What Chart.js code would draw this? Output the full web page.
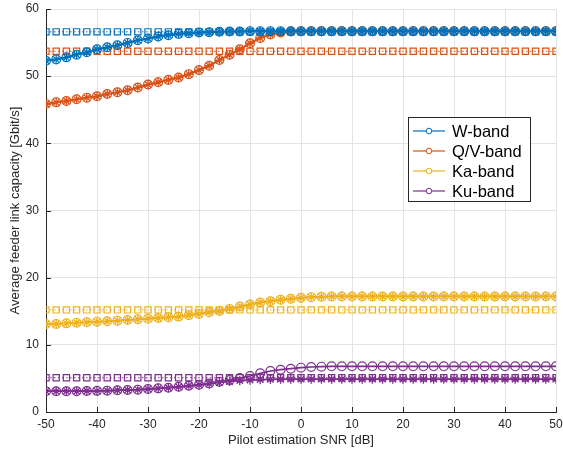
<!DOCTYPE html>
<html>
<head>
<meta charset="utf-8">
<script src="https://cdn.jsdelivr.net/npm/chart.js@4.4.1/dist/chart.umd.min.js"></script>
<style>
  html, body { margin: 0; padding: 0; background: #ffffff; }
  #wrap { width: 563px; height: 450px; }
</style>
</head>
<body>
<div id="wrap"><canvas id="c" width="563" height="450"></canvas></div>
<script>
// Pilot estimation SNR grid [dB]
const snr = [-50,-48,-46,-44,-42,-40,-38,-36,-34,-32,-30,-28,-26,-24,-22,-20,-18,-16,-14,-12,-10,
             -8,-6,-4,-2,0,2,4,6,8,10,12,14,16,18,20,22,24,26,28,30,32,34,36,38,40,42,44,46,48,50];

const xTicks = [-50,-40,-30,-20,-10,0,10,20,30,40,50];
const yTicks = [0,10,20,30,40,50,60];

// Average feeder link capacity [Gbit/s], estimated CSI (circles)
const wEst  = [52.3,52.5,52.8,53.2,53.55,54.0,54.3,54.6,54.95,55.35,55.6,55.9,56.1,56.3,56.4,56.5,56.55,56.6,56.65,56.65,56.7,
               56.7,56.7,56.7,56.7,56.7,56.7,56.7,56.7,56.7,56.7,56.7,56.7,56.7,56.7,56.7,56.7,56.7,56.7,56.7,56.7,
               56.7,56.7,56.7,56.7,56.7,56.7,56.7,56.7,56.7,56.7];
const qvEst = [45.85,46.1,46.3,46.55,46.8,47.0,47.35,47.6,47.9,48.3,48.75,49.1,49.45,49.8,50.3,50.9,51.55,52.4,53.2,54.0,54.9,
               55.7,56.2,56.5,56.65,56.7,56.7,56.7,56.7,56.7,56.7,56.7,56.7,56.7,56.7,56.7,56.7,56.7,56.7,56.7,56.7,
               56.7,56.7,56.7,56.7,56.7,56.7,56.7,56.7,56.7,56.7];
const kaEst = [13.1,13.1,13.2,13.3,13.35,13.45,13.5,13.6,13.7,13.8,13.9,14.0,14.1,14.2,14.4,14.6,14.85,15.05,15.35,15.7,16.0,
               16.3,16.5,16.7,16.85,17.0,17.1,17.15,17.2,17.2,17.2,17.2,17.2,17.2,17.2,17.2,17.2,17.2,17.2,17.2,17.2,
               17.2,17.2,17.2,17.2,17.2,17.2,17.2,17.2,17.2,17.2];
const kuEst = [3.1,3.1,3.1,3.1,3.13,3.15,3.18,3.23,3.28,3.33,3.42,3.52,3.62,3.75,3.9,4.05,4.25,4.5,4.75,5.05,5.36,
               5.76,6.1,6.3,6.45,6.6,6.7,6.75,6.8,6.8,6.8,6.8,6.8,6.8,6.8,6.8,6.8,6.8,6.8,6.8,6.8,
               6.8,6.8,6.8,6.8,6.8,6.8,6.8,6.8,6.8,6.8];

// Reference capacity levels (squares)
const wRef  = [56.6,56.6,56.6,56.6,56.6,56.6,56.6,56.6,56.6,56.6,56.6,56.6,56.6,56.6,56.6,56.6,56.6,56.6,56.6,56.6,56.6,
               56.6,56.6,56.6,56.6,56.6,56.6,56.6,56.6,56.6,56.6,56.6,56.6,56.6,56.6,56.6,56.6,56.6,56.6,56.6,56.6,
               56.6,56.6,56.6,56.6,56.6,56.6,56.6,56.6,56.6,56.6];
const qvRef = [53.7,53.7,53.7,53.7,53.7,53.7,53.7,53.7,53.7,53.7,53.7,53.7,53.7,53.7,53.7,53.7,53.7,53.7,53.7,53.7,53.7,
               53.7,53.7,53.7,53.7,53.7,53.7,53.7,53.7,53.7,53.7,53.7,53.7,53.7,53.7,53.7,53.7,53.7,53.7,53.7,53.7,
               53.7,53.7,53.7,53.7,53.7,53.7,53.7,53.7,53.7,53.7];
const kaRef = [15.2,15.2,15.2,15.2,15.2,15.2,15.2,15.2,15.2,15.2,15.2,15.2,15.2,15.2,15.2,15.2,15.2,15.2,15.2,15.2,15.2,
               15.2,15.2,15.2,15.2,15.2,15.2,15.2,15.2,15.2,15.2,15.2,15.2,15.2,15.2,15.2,15.2,15.2,15.2,15.2,15.2,
               15.2,15.2,15.2,15.2,15.2,15.2,15.2,15.2,15.2,15.2];
const kuRef = [5.1,5.1,5.1,5.1,5.1,5.1,5.1,5.1,5.1,5.1,5.1,5.1,5.1,5.1,5.1,5.1,5.1,5.1,5.1,5.1,5.1,
               5.1,5.1,5.1,5.1,5.1,5.1,5.1,5.1,5.1,5.1,5.1,5.1,5.1,5.1,5.1,5.1,5.1,5.1,5.1,5.1,
               5.1,5.1,5.1,5.1,5.1,5.1,5.1,5.1,5.1,5.1];

// Asterisk series (fixed-rate scheme)
const wFix  = wEst;
const qvFix = qvEst;
const kaFix = kaEst;
const kuFix = [3.1,3.1,3.1,3.1,3.13,3.15,3.18,3.23,3.28,3.33,3.42,3.52,3.62,3.75,3.9,4.05,4.2,4.4,4.55,4.68,4.76,
               4.82,4.86,4.88,4.9,4.9,4.9,4.9,4.9,4.9,4.9,4.9,4.9,4.9,4.9,4.9,4.9,4.9,4.9,4.9,4.9,
               4.9,4.9,4.9,4.9,4.9,4.9,4.9,4.9,4.9,4.9];

const bands = ['W-band', 'Q/V-band', 'Ka-band', 'Ku-band'];
const colors = ['#0072BD', '#D95319', '#EDB120', '#7E2F8E'];
const estSeries = [wEst, qvEst, kaEst, kuEst];
const refSeries = [wRef, qvRef, kaRef, kuRef];
const fixSeries = [wFix, qvFix, kaFix, kuFix];

const pts = arr => snr.map((x, i) => ({ x: x, y: arr[i] }));

const datasets = [];
bands.forEach((name, b) => {
  datasets.push({
    label: name, legend: true, data: pts(estSeries[b]),
    borderColor: colors[b], backgroundColor: 'rgba(0,0,0,0)',
    borderWidth: 1.7, pointStyle: 'circle', pointRadius: 4.4,
    pointBorderWidth: 1.2, pointBorderColor: colors[b], pointBackgroundColor: 'rgba(0,0,0,0)'
  });
  datasets.push({
    label: name + ' ref', data: pts(refSeries[b]),
    borderColor: colors[b], backgroundColor: 'rgba(0,0,0,0)',
    borderWidth: 1, borderDash: [1.5, 2.5], pointStyle: 'rect', pointRadius: 4.4,
    pointBorderWidth: 1.2, pointBorderColor: colors[b], pointBackgroundColor: 'rgba(0,0,0,0)'
  });
  datasets.push({
    label: name + ' fixed', data: pts(fixSeries[b]),
    borderColor: colors[b], backgroundColor: 'rgba(0,0,0,0)',
    borderWidth: 1.7, pointStyle: 'star', pointRadius: 4.6,
    pointBorderWidth: 1.3, pointBorderColor: colors[b], pointBackgroundColor: 'rgba(0,0,0,0)'
  });
});

const axisColor = '#262626';
const gridColor = '#e3e3e3';
const fontFamily = '"Liberation Sans", Arial, Helvetica, sans-serif';

// Inward tick marks on the left and bottom axes
const innerTicks = {
  id: 'innerTicks',
  afterDatasetsDraw(chart) {
    const ctx = chart.ctx;
    const xs = chart.scales.x, ys = chart.scales.y;
    const area = chart.chartArea;
    ctx.save();
    ctx.strokeStyle = axisColor;
    ctx.lineWidth = 1;
    ctx.beginPath();
    xTicks.forEach(v => {
      const px = Math.round(xs.getPixelForValue(v)) + 0.5;
      ctx.moveTo(px, area.bottom);
      ctx.lineTo(px, area.bottom - 5);
    });
    yTicks.forEach(v => {
      const py = Math.round(ys.getPixelForValue(v)) + 0.5;
      ctx.moveTo(area.left, py);
      ctx.lineTo(area.left + 5, py);
    });
    ctx.stroke();
    ctx.restore();
  }
};

// Boxed legend inside the plot area
const boxLegend = {
  id: 'boxLegend',
  afterDraw(chart) {
    const ctx = chart.ctx;
    const items = chart.data.datasets.filter(d => d.legend);
    const left = 408.5, top = 117.5, w = 122, h = 84;
    ctx.save();
    ctx.fillStyle = '#ffffff';
    ctx.fillRect(left, top, w, h);
    ctx.strokeStyle = '#262626';
    ctx.lineWidth = 1;
    ctx.strokeRect(left, top, w, h);
    ctx.font = '16.5px ' + fontFamily;
    ctx.textBaseline = 'middle';
    items.forEach((d, i) => {
      const y = 131 + i * 20;
      ctx.strokeStyle = d.borderColor;
      ctx.lineWidth = 1.2;
      ctx.beginPath();
      ctx.moveTo(413, y);
      ctx.lineTo(445, y);
      ctx.stroke();
      ctx.lineWidth = 1;
      ctx.beginPath();
      ctx.arc(429, y, 2.8, 0, Math.PI * 2);
      ctx.fillStyle = '#ffffff';
      ctx.fill();
      ctx.stroke();
      ctx.fillStyle = '#000000';
      ctx.fillText(d.label, 452, y + 1);
    });
    ctx.restore();
  }
};

new Chart(document.getElementById('c'), {
  type: 'line',
  data: { datasets: datasets },
  options: {
    responsive: false,
    devicePixelRatio: 1,
    animation: false,
    events: [],
    layout: { padding: { top: 9, right: 7, left: 0, bottom: 0 } },
    plugins: { legend: { display: false }, tooltip: { enabled: false } },
    elements: { line: { tension: 0 } },
    scales: {
      x: {
        type: 'linear', min: -50, max: 50,
        afterBuildTicks: s => { s.ticks = xTicks.map(v => ({ value: v })); },
        afterFit: s => { s.height = 38; s.paddingLeft = 0; s.paddingRight = 0; },
        grid: { color: gridColor, drawTicks: false },
        border: { color: axisColor, width: 1 },
        ticks: { color: axisColor, font: { size: 12, family: fontFamily }, padding: 5, maxRotation: 0 },
        title: { display: true, text: 'Pilot estimation SNR [dB]', color: axisColor,
                 font: { size: 13, family: fontFamily }, padding: { top: 0, bottom: 2 } }
      },
      y: {
        type: 'linear', min: 0, max: 60,
        afterBuildTicks: s => { s.ticks = yTicks.map(v => ({ value: v })); },
        afterFit: s => { s.width = 46; s.paddingTop = 0; s.paddingBottom = 0; },
        grid: { color: gridColor, drawTicks: false },
        border: { color: axisColor, width: 1 },
        ticks: { color: axisColor, font: { size: 12, family: fontFamily }, padding: 7 },
        title: { display: true, text: 'Average feeder link capacity [Gbit/s]', color: axisColor,
                 font: { size: 13, family: fontFamily }, padding: { top: 8, bottom: 0 } }
      }
    }
  },
  plugins: [innerTicks, boxLegend]
});
</script>
</body>
</html>
